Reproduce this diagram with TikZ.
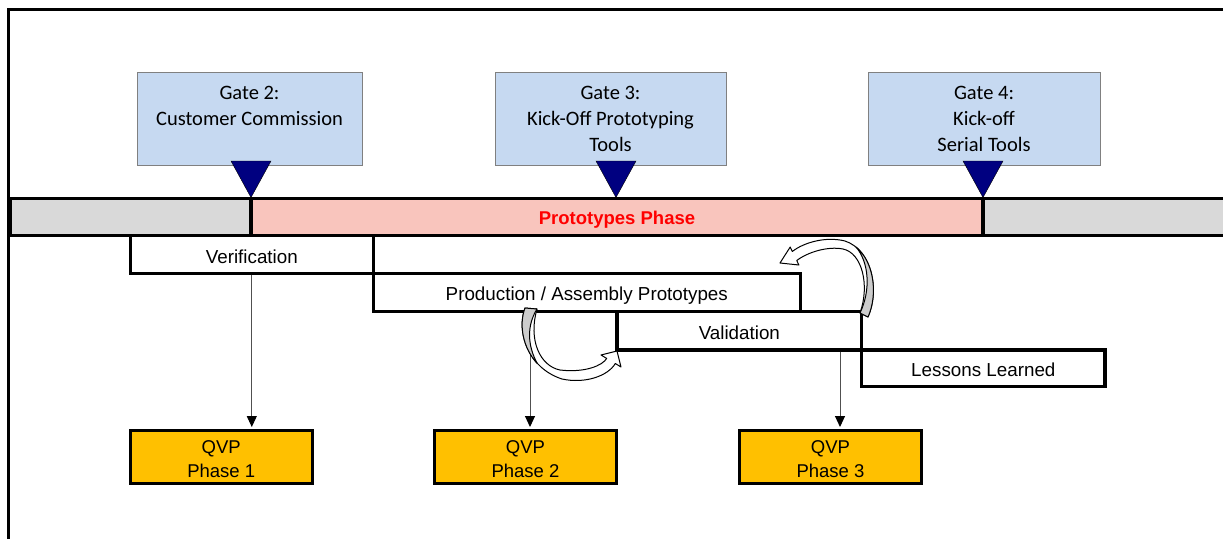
\documentclass[tikz,border=0pt]{standalone}
\usepackage{fontspec}
\setmainfont{Liberation Sans}
\newfontfamily\gatefont{Carlito}
\usetikzlibrary{arrows.meta}
\definecolor{gatefill}{HTML}{C6D9F1}
\definecolor{gateline}{HTML}{808080}
\definecolor{trinavy}{HTML}{000080}
\definecolor{bargray}{HTML}{D9D9D9}
\definecolor{barpink}{HTML}{F9C5BD}
\definecolor{qvpfill}{HTML}{FFC000}
\definecolor{phasered}{HTML}{FF0000}
\definecolor{ribbongray}{HTML}{CCCCCC}
\definecolor{connline}{HTML}{505050}
\begin{document}
\begin{tikzpicture}[x=1pt,y=-1pt,
  gatebox/.style={draw=gateline,line width=0.9pt,fill=gatefill,minimum height=93pt,inner sep=0pt,align=center,text height=65.5pt,text depth=0pt,font=\gatefont\fontsize{20.5}{25.9}\selectfont},
  gatetri/.style={fill=trinavy,draw=black,line width=0.4pt},
  barcell/.style={draw=black,line width=3.2pt,minimum height=37.5pt,inner sep=0pt},
  actbox/.style={draw=black,line width=3.2pt,fill=white,inner sep=0pt,text height=17pt,text depth=0pt,font=\fontsize{18.8}{22}\selectfont},
  qvpbox/.style={draw=black,line width=3.2pt,fill=qvpfill,minimum width=182pt,minimum height=53pt,inner sep=0pt,align=center,text height=40.6pt,text depth=0pt,font=\fontsize{18.5}{24}\selectfont},
  conn/.style={draw=connline,line width=1pt,-{Triangle[length=11pt,width=10pt,color=black]},shorten >=1.6pt},
  ribbon/.style={fill=white,draw=black,line width=1pt,line join=round},
  ribbonback/.style={fill=ribbongray,draw=black,line width=1pt,line join=round}
]
\useasboundingbox (0,0) rectangle (1223,538);
% frame
\draw[line width=2.6pt] (8.7,560) -- (8.7,9.5) -- (1240,9.5);
% gates
\node[gatebox,minimum width=225pt] (gate2) at (249.5,119) {Gate 2:\\Customer Commission\\\mbox{}};
\node[gatebox,minimum width=231pt] (gate3) at (610.5,119) {Gate 3:\\Kick-Off Prototyping\\Tools};
\node[gatebox,minimum width=232pt] (gate4) at (984,119) {Gate 4:\\Kick-off\\Serial Tools};
\draw[gatetri] (231,161) -- (271,161) -- (251,197.5) -- cycle;
\draw[gatetri] (596,161) -- (636,161) -- (616,197.5) -- cycle;
\draw[gatetri] (963,161) -- (1003,161) -- (983,197.5) -- cycle;
% bar
\node[barcell,fill=bargray,minimum width=1240pt,anchor=west] (bar) at (8.7,217.05) {};
\node[barcell,fill=barpink,minimum width=732pt,text height=15pt,text depth=0pt,font=\bfseries\fontsize{18.5}{22}\selectfont,text=phasered] (phase) at (617,217.05) {Prototypes Phase};
% activities
\node[actbox,minimum width=243pt,minimum height=37.4pt] (verif) at (251.8,254.5) {Verification};
\node[actbox,minimum width=427pt,minimum height=38.5pt] (prod) at (586.8,292.45) {Production / Assembly Prototypes};
\node[actbox,minimum width=244.7pt,minimum height=38.3pt] (valid) at (739.35,330.85) {Validation};
\node[actbox,minimum width=243.3pt,minimum height=36.7pt] (lessons) at (983.35,368.35) {Lessons Learned};
% QVP
\node[qvpbox] (qvp1) at (221.2,456.7) {QVP\\Phase 1};
\node[qvpbox] (qvp2) at (525.5,456.7) {QVP\\Phase 2};
\node[qvpbox] (qvp3) at (830.5,456.7) {QVP\\Phase 3};
% connectors
\draw[conn] (verif.south) -- (verif.south |- qvp1.north);
\draw[conn] ([xshift=4.5pt]qvp2.north |- prod.south) -- ([xshift=4.5pt]qvp2.north);
\draw[conn] ([xshift=9.5pt]qvp3.north |- valid.south) -- ([xshift=9.5pt]qvp3.north);
% curved ribbon arrows
\draw[ribbon] (525,308) .. controls (516,332) and (528,368) .. (562,379) .. controls (585,384) and (608,376) .. (615.3,363.5) -- (621,367) -- (617,351) -- (601,355) -- (606.7,358.4) .. controls (602.7,365.4) and (585,373) .. (560,370) .. controls (540,366) and (528,340) .. (537,309) -- cycle;
\draw[ribbonback] (525,308) .. controls (518.7,324.8) and (522.7,347.8) .. (537.4,363.7) .. controls (527,345) and (527,325) .. (537,309) -- cycle;
\draw[ribbon] (868,317) .. controls (880,290) and (872,250) .. (845,241) .. controls (825,236) and (803,243) .. (792.3,251.5) -- (790.2,247) -- (780,263) -- (798.9,265) -- (796.7,260.5) .. controls (808,252) and (828,246) .. (843,249) .. controls (862,253) and (870,285) .. (860,313) -- cycle;
\draw[ribbonback] (868,317) .. controls (878.2,294.05) and (873.95,261.7) .. (855.9,246.9) .. controls (869,262) and (871,290) .. (860,313) -- cycle;
\end{tikzpicture}
\end{document}
